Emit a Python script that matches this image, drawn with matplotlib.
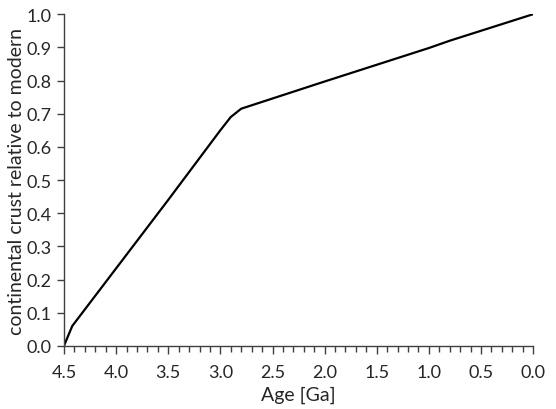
import matplotlib
matplotlib.use("Agg")
import matplotlib.pyplot as plt
from matplotlib.ticker import MultipleLocator

plt.rcParams['font.family'] = ['Lato', 'DejaVu Sans']

# crust growth curve
age_ga = [4.5, 4.42, 3.5, 3.0, 2.9, 2.8, 2.0, 1.0, 0.8, 0.0]
crust_frac = [0.0, 0.06, 0.44, 0.65, 0.69, 0.715, 0.797, 0.898, 0.92, 1.0]

fig = plt.figure(figsize=(5.56, 4.10), dpi=100)
ax = fig.add_axes([0.115, 0.154, 0.844, 0.809])

ax.plot(age_ga, crust_frac, color='black', linewidth=1.6)

ax.set_xlim(4.5, 0.0)
ax.set_ylim(0.0, 1.0)
ax.xaxis.set_major_locator(MultipleLocator(0.5))
ax.xaxis.set_minor_locator(MultipleLocator(0.1))
ax.yaxis.set_major_locator(MultipleLocator(0.1))
ax.xaxis.set_major_formatter(lambda v, p: f'{v:.1f}')
ax.yaxis.set_major_formatter(lambda v, p: f'{v:.1f}')

for s in ['top', 'right']:
    ax.spines[s].set_visible(False)
for s in ['left', 'bottom']:
    ax.spines[s].set_color('#404040')
    ax.spines[s].set_linewidth(1.0)

ax.tick_params(axis='both', which='major', direction='out', length=5, width=1.0,
               color='#404040', labelsize=13, labelcolor='#262626')
ax.tick_params(axis='x', which='major', length=6, pad=7)
ax.tick_params(axis='x', which='minor', direction='out', length=4, width=1.0, color='#404040')
ax.tick_params(axis='y', which='major', pad=4)

ax.set_xlabel('Age [Ga]', fontsize=14, color='#262626', labelpad=4)
ax.set_ylabel('continental crust relative to modern', fontsize=14, color='#262626', labelpad=1)

fig.savefig('out.png', dpi=100)
